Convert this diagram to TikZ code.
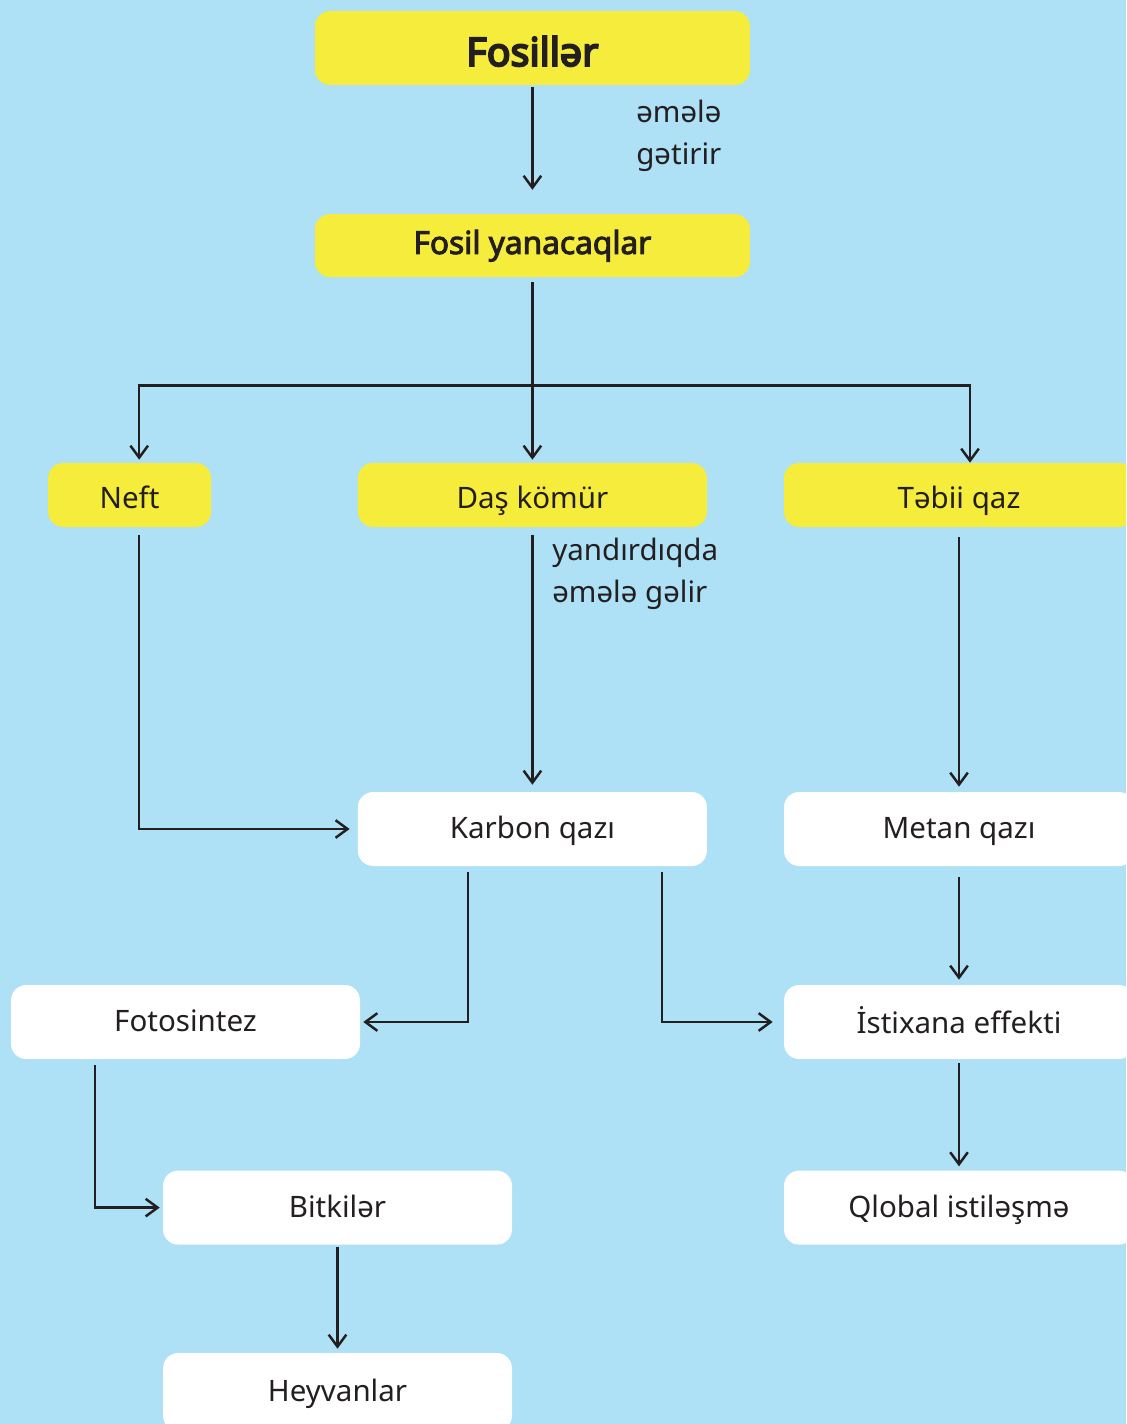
\documentclass[tikz,border=0pt]{standalone}
\usepackage{fontspec}
\setmainfont{Noto Sans}
\newfontfamily\heavyfont{Noto Sans}[FakeBold=5]
\newfontfamily\boldfont{Noto Sans}[FakeBold=3]
\usetikzlibrary{arrows.meta,calc}
\definecolor{Sky}{HTML}{AEE0F6}
\definecolor{Lemon}{HTML}{F5EC3C}
\definecolor{Ink}{HTML}{231F20}

\begin{document}
\begin{tikzpicture}[
  ybox/.style={rounded corners=0.38cm,fill=Lemon,minimum width=8.725cm,minimum height=1.6cm,inner sep=0pt,text=Ink,text height=0.73cm,text depth=0.08cm,font=\fontsize{21}{25}\selectfont},
  wbox/.style={rounded corners=0.38cm,fill=white,minimum width=8.725cm,minimum height=1.85cm,inner sep=0pt,text=Ink,text height=0.56cm,text depth=0.08cm,font=\fontsize{21}{25}\selectfont},
  arr/.style={draw=Ink,line width=1.75pt,-{Straight Barb[length=0.3cm,width=0.44cm,line width=1.75pt]}},
  note/.style={anchor=west,align=left,text=Ink,inner sep=0pt,font=\fontsize{21}{30}\selectfont}
]
\clip (0,0) rectangle (28.15,-35.6);
\fill[Sky] (0,0) rectangle (28.15,-35.6);
% top of the chart
\node[ybox,minimum width=10.875cm,minimum height=1.85cm,text height=0.98cm,font=\heavyfont\fontsize{28}{32}\selectfont] (fos) at (13.31,-1.2) {Fosillər};
\node[ybox,minimum width=10.875cm,minimum height=1.575cm,text height=0.5cm,font=\boldfont\fontsize{22.5}{26}\selectfont] (fy) at (13.31,-6.14) {Fosil yanacaqlar};
\node[note] (l1) at (15.9,-3.4) {əmələ\\gətirir};
% the three fuels
\node[ybox,minimum width=4.075cm] (neft) at (3.24,-12.375) {Neft};
\node[ybox] (das) at (13.31,-12.375) {Daş kömür};
\node[ybox,minimum width=8.75cm] (tebii) at (23.975,-12.375) {Təbii qaz};
\node[note] (l2) at (13.8,-14.35) {yandırdıqda\\əmələ gəlir};
% gases and what follows
\node[wbox] (karbon) at (13.31,-20.725) {Karbon qazı};
\node[wbox,minimum width=8.75cm] (metan) at (23.975,-20.725) {Metan qazı};
\node[wbox] (foto) at (4.6375,-25.55) {Fotosintez};
\node[wbox,minimum width=8.75cm,text height=0.66cm] (istix) at (23.975,-25.55) {İstixana effekti};
\node[wbox] (bitki) at (8.4375,-30.19) {Bitkilər};
\node[wbox,minimum width=8.75cm] (qlobal) at (23.975,-30.19) {Qlobal istiləşmə};
\node[wbox,minimum height=1.95cm] (heyv) at (8.4375,-34.8) {Heyvanlar};
\coordinate (split) at ($(fy.south)+(0,-2.7)$);
% connectors
\draw[arr,shorten <=0.05cm,shorten >=0.6cm] (fos.south) -- (fy.north);
\draw[arr,shorten <=0.125cm,shorten >=0.075cm] (fy.south) -- (das.north);
\draw[arr,shorten >=0.075cm] (split) -| ($(neft.north)+(0.24,0)$);
\draw[arr,shorten >=0.0cm] (split) -| ($(tebii.north)+(0.275,0)$);
\draw[arr,shorten >=0.2cm] ($(neft.south)+(0.24,-0.2)$) |- (karbon.west);
\draw[arr,shorten <=0.2cm,shorten >=0.175cm] (das.south) -- (karbon.north);
\draw[arr,shorten <=0.25cm,shorten >=0.125cm] (tebii.south) -- (metan.north);
\draw[arr,shorten >=0.075cm] ($(karbon.south)+(-1.6125,-0.15)$) |- (foto.east);
\draw[arr,shorten >=0.275cm] ($(karbon.south)+(3.2375,-0.15)$) |- (istix.west);
\draw[arr,shorten <=0.275cm,shorten >=0.125cm] (metan.south) -- (istix.north);
\draw[arr,shorten >=0.075cm] ($(foto.south)+(-2.2625,-0.15)$) |- (bitki.west);
\draw[arr,shorten <=0.1cm,shorten >=0.1cm] (istix.south) -- (qlobal.north);
\draw[arr,shorten <=0.05cm,shorten >=0.1cm] (bitki.south) -- (heyv.north);
\end{tikzpicture}
\end{document}
